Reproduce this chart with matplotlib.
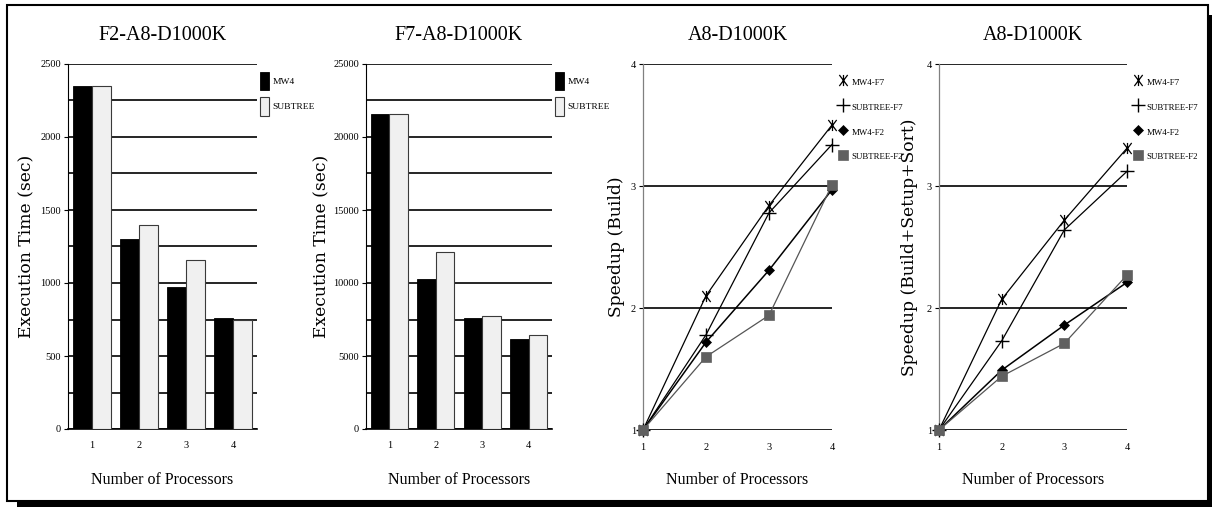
import matplotlib
matplotlib.use("Agg")
import matplotlib.pyplot as plt
from matplotlib.patches import Rectangle, Patch
from matplotlib.lines import Line2D
from matplotlib.path import Path
import numpy as np

# ---------------- data ----------------
procs = [1, 2, 3, 4]
f2_mw4 = [2350, 1300, 970, 758]
f2_subtree = [2350, 1400, 1155, 748]
f7_mw4 = [21550, 10250, 7580, 6150]
f7_subtree = [21550, 12150, 7740, 6420]

build_mw4_f7 = [1, 2.10, 2.84, 3.50]
build_subtree_f7 = [1, 1.78, 2.78, 3.34]
build_mw4_f2 = [1, 1.72, 2.31, 2.97]
build_subtree_f2 = [1, 1.60, 1.94, 3.01]

total_mw4_f7 = [1, 2.07, 2.72, 3.31]
total_subtree_f7 = [1, 1.73, 2.64, 3.12]
total_mw4_f2 = [1, 1.49, 1.86, 2.21]
total_subtree_f2 = [1, 1.44, 1.71, 2.27]

bar_titles = ["F2-A8-D1000K", "F7-A8-D1000K"]
speed_titles = ["A8-D1000K", "A8-D1000K"]
bar_labels = ["MW4", "SUBTREE"]
line_labels = ["MW4-F7", "SUBTREE-F7", "MW4-F2", "SUBTREE-F2"]
xlabel = "Number of Processors"
ylabels = ["Execution Time (sec)", "Execution Time (sec)",
           "Speedup (Build)", "Speedup (Build+Setup+Sort)"]

# ---------------- layout helpers ----------------
W, H = 1212, 507
fig = plt.figure(figsize=(W / 100, H / 100), dpi=100)
fig.patch.set_facecolor("white")

def rect(l, t, r, b):
    return [l / W, 1 - b / H, (r - l) / W, (b - t) / H]

SERIF = "Liberation Serif"
YFONT = "DejaVu Serif"

# frame with shadow
fig.add_artist(Rectangle((17 / W, 1 - 507 / H), (1212 - 17) / W, 5 / H,
                         transform=fig.transFigure, color="black", lw=0))
fig.add_artist(Rectangle((1208 / W, 1 - 507 / H), 4 / W, (507 - 15) / H,
                         transform=fig.transFigure, color="black", lw=0))
fig.add_artist(Rectangle((7 / W, 1 - 501 / H), (1208 - 7) / W, (501 - 5) / H,
                         transform=fig.transFigure, fill=False, ec="black", lw=1.5))

ast_path = Path([(-0.75, -1), (0.75, 1), (-0.75, 1), (0.75, -1), (0, -1), (0, 1)],
                [Path.MOVETO, Path.LINETO, Path.MOVETO, Path.LINETO, Path.MOVETO, Path.LINETO])

def style_common(ax, title, ylab, ylab_right_px, left_px, width_px, bottom_px, height_px):
    ax.set_title(title, fontname=SERIF, fontsize=14.5, pad=17)
    ax.set_ylabel(ylab, fontname=YFONT, fontsize=12.3)
    ax.yaxis.set_label_coords((ylab_right_px - left_px) / width_px, 0.5)
    ax.set_xlabel(xlabel, fontname=SERIF, fontsize=11.5, va="top")
    ax.xaxis.set_label_coords(0.5, (bottom_px - 472) / height_px)
    for lab in ax.get_xticklabels() + ax.get_yticklabels():
        lab.set_fontname(SERIF)
        lab.set_fontsize(7.5)
    ax.tick_params(axis="x", length=0, pad=9)
    ax.tick_params(axis="y", length=3, width=0.8, pad=2, direction="out")
    ax.spines["top"].set_visible(False)
    ax.spines["right"].set_visible(False)

# ---------------- bar panels ----------------
bar_specs = [
    (rect(68, 64, 257, 429), f2_mw4, f2_subtree, 2500, 35),
    (rect(366, 64, 552, 429), f7_mw4, f7_subtree, 25000, 330),
]
legend_left = [260, 555]
x = np.array(procs)
for i, (pos, mw4, sub, ymax, ylr) in enumerate(bar_specs):
    ax = fig.add_axes(pos)
    ax.set_xlim(0.5, 4.5)
    ax.set_ylim(0, ymax)
    ax.set_yticks(np.linspace(0, ymax, 6))
    ax.set_yticks(np.linspace(0, ymax, 11), minor=True)
    ax.tick_params(axis="y", which="minor", length=0)
    ax.set_xticks(procs)
    ax.yaxis.grid(True, which="both", color="black", lw=1.2)
    ax.set_axisbelow(True)
    ax.bar(x - 0.2, mw4, width=0.4, color="black", edgecolor="black", lw=0.6, zorder=3)
    ax.bar(x + 0.2, sub, width=0.4, color="#f0f0f0", edgecolor="#3a3a3a", lw=0.8, zorder=3)
    ax.spines["left"].set_color("black")
    ax.spines["left"].set_linewidth(0.8)
    ax.spines["bottom"].set_linewidth(1.2)
    style_common(ax, bar_titles[i], ylabels[i], ylr, pos[0] * W, pos[2] * W, (1 - pos[1]) * H, pos[3] * H)
    handles = [Patch(facecolor="black", edgecolor="black", lw=0.6),
               Patch(facecolor="#f0f0f0", edgecolor="#3a3a3a", lw=0.8)]
    fig.legend(handles, bar_labels, loc="upper left",
               bbox_to_anchor=(legend_left[i] / W, 1 - 72 / H),
               frameon=False, prop={"family": SERIF, "size": 6.8},
               handlelength=1.0, handleheight=2.6, handletextpad=0.35,
               labelspacing=0.75, borderpad=0, borderaxespad=0)

# ---------------- speedup panels ----------------
speed_specs = [
    (rect(643, 64, 832, 430), [build_mw4_f7, build_subtree_f7, build_mw4_f2, build_subtree_f2], 625, 838.5),
    (rect(939, 64, 1127, 430), [total_mw4_f7, total_subtree_f7, total_mw4_f2, total_subtree_f2], 918, 1133.5),
]
markers = [
    dict(marker=ast_path, ms=8, mfc="none", mec="black", mew=0.9),
    dict(marker="+", ms=10, mec="black", mew=1.0),
    dict(marker="D", ms=5.5, mfc="black", mec="black", mew=0.5),
    dict(marker="s", ms=7, mfc="#606060", mec="#606060", mew=0.5),
]
line_styles = [
    dict(color="black", lw=0.9),
    dict(color="black", lw=0.9),
    dict(color="black", lw=1.1),
    dict(color="#555555", lw=0.9),
]
for i, (pos, series, ylr, legx) in enumerate(speed_specs):
    ax = fig.add_axes(pos)
    ax.set_xlim(1, 4)
    ax.set_ylim(1, 4)
    ax.set_xticks(procs)
    ax.set_yticks([1, 2, 3, 4])
    ax.yaxis.grid(True, color="black", lw=1.2)
    ax.set_axisbelow(True)
    ax.spines["left"].set_color("#808080")
    ax.spines["left"].set_linewidth(0.9)
    ax.spines["bottom"].set_visible(False)
    for s, mk, ls in zip(series, markers, line_styles):
        ax.plot(procs, s, clip_on=False, zorder=4, **ls, **mk)
    style_common(ax, speed_titles[i], ylabels[2 + i], ylr, pos[0] * W, pos[2] * W, (1 - pos[1]) * H, pos[3] * H)
    handles = [Line2D([], [], ls="none", **mk) for mk in markers]
    fig.legend(handles, line_labels, loc="upper left",
               bbox_to_anchor=(legx / W, 1 - 75.5 / H),
               frameon=False, prop={"family": SERIF, "size": 6.4},
               handlelength=1.0, handleheight=2.0, handletextpad=0.5,
               labelspacing=1.24, borderpad=0, borderaxespad=0)

fig.savefig("out.png", dpi=100)
